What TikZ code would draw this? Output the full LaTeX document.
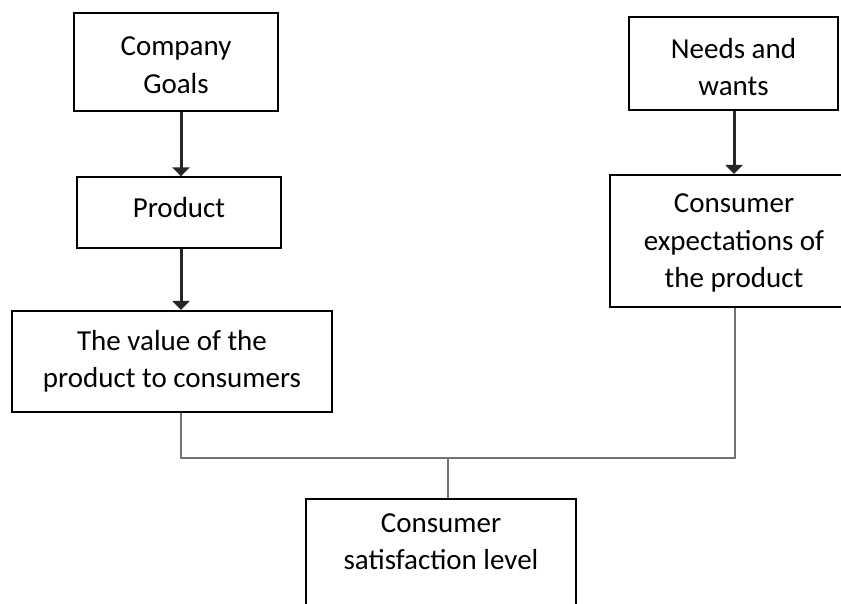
\documentclass[tikz,border=0pt]{standalone}
\usepackage{fontspec}
\setmainfont{Carlito}
\usetikzlibrary{arrows.meta}
% invisible rules that fix how far a box's text reaches above its first
% baseline and below its last one, so the text sits where it should
\newcommand\topgap[1]{\rule{0pt}{#1pt}}
\newcommand\botgap[1]{\rule[-#1pt]{0pt}{#1pt}}

\begin{document}
\begin{tikzpicture}[x=1pt, y=-1pt,
  box/.style={draw=black, line width=2pt, inner sep=0pt, align=center,
    font=\fontsize{29}{37.5}\selectfont},
  flow/.style={draw=black!85, line width=3pt,
    -{Triangle[width=17pt, length=9pt]}},
  link/.style={draw=black!55, line width=2pt}]

\useasboundingbox (0,0) rectangle (841,603);
\clip (0,0) rectangle (841,603);

% boxes
\node[box, minimum width=204pt, minimum height=98pt] (goals) at (176,62)
  {\topgap{35}Company\\Goals\botgap{10}};
\node[box, minimum width=209pt, minimum height=93pt] (needs) at (733.5,63.7)
  {\topgap{36}Needs and\\wants\botgap{9}};
\node[box, minimum width=204pt, minimum height=70.4pt] (product) at (179,212.5)
  {\topgap{30}Product\botgap{20}};
\node[box, minimum width=320pt, minimum height=100.7pt] (value) at (172,361.3)
  {\topgap{30}The value of the\\product to consumers\botgap{15}};
\node[box, minimum width=248pt, minimum height=131.7pt] (expect) at (734,240.8)
  {\topgap{30}Consumer\\expectations of\\the product\botgap{11}};
\node[box, minimum width=270pt, minimum height=150pt] (sat) at (441,574)
  {\topgap{30}Consumer\\satisfaction level\botgap{76}};

% x positions of the vertical connectors
\coordinate (xa) at (181,0);
\coordinate (xb) at (734,0);
\coordinate (xl) at (181,0);
\coordinate (xr) at (735,0);
\coordinate (jn) at (448,458);

% arrows
\draw[flow] (goals.south -| xa) -- (product.north -| xa);
\draw[flow] (product.south -| xa) -- (value.north -| xa);
\draw[flow] (needs.south -| xb) -- (expect.north -| xb);

% joining lines
\draw[link] (value.south -| xl) |- (jn) -| (expect.south -| xr);
\draw[link] (jn) -- (sat.north -| jn);
\end{tikzpicture}
\end{document}
